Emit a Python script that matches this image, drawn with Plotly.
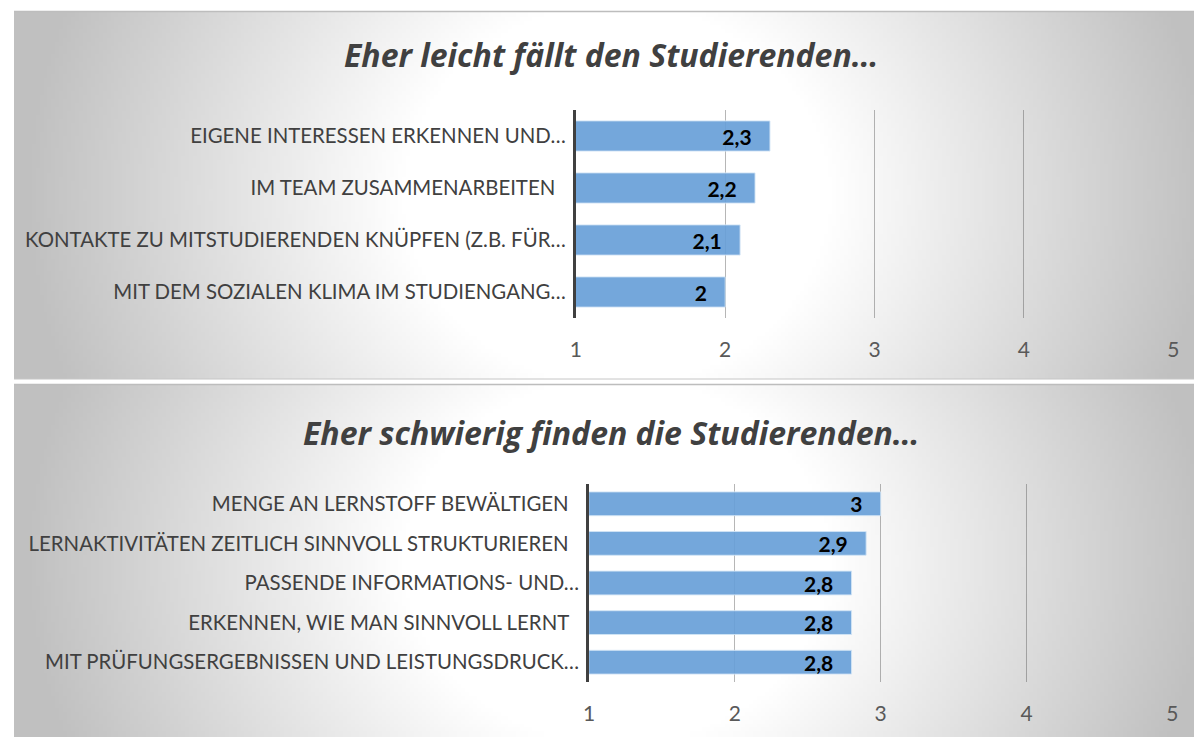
import base64, struct, zlib
import plotly.graph_objects as go

# page is 1202x737; browser body margin of 8px offsets the figure
OFF = 8
FW, FH = 1202 - OFF, 737 - OFF

# ---------------- data ----------------
top_title = "Eher leicht fällt den Studierenden…"
top_categories = [
    "EIGENE INTERESSEN ERKENNEN UND…",
    "IM TEAM ZUSAMMENARBEITEN\u00a0\u00a0",
    "KONTAKTE ZU MITSTUDIERENDEN KNÜPFEN (Z.B. FÜR…",
    "MIT DEM SOZIALEN KLIMA IM STUDIENGANG…",
]
top_values = [2.3, 2.2, 2.1, 2.0]

bottom_title = "Eher schwierig finden die Studierenden…"
bottom_categories = [
    "MENGE AN LERNSTOFF BEWÄLTIGEN\u00a0\u00a0",
    "LERNAKTIVITÄTEN ZEITLICH SINNVOLL STRUKTURIEREN\u00a0\u00a0",
    "PASSENDE INFORMATIONS- UND…",
    "ERKENNEN, WIE MAN SINNVOLL LERNT\u00a0\u00a0",
    "MIT PRÜFUNGSERGEBNISSEN UND LEISTUNGSDRUCK…",
]
bottom_values = [3.0, 2.9, 2.8, 2.8, 2.8]

x_ticks = [1, 2, 3, 4, 5]

# ---------------- helpers ----------------
def px_x(p):
    return (p - OFF) / FW

def px_y(p):
    return 1 - (p - OFF) / FH

def fmt(v):
    s = ("%g" % v).replace(".", ",")
    return s + "\u00a0\u00a0\u00a0"

def gradient_png(w, h):
    rows = []
    for j in range(h):
        v = (j + 0.5) / h
        row = []
        for i in range(w):
            u = (i + 0.5) / w
            du = (u - 0.51) / 0.5
            dv = (v - 0.5) / 0.5
            d = (du * du + 0.12 * dv * dv) ** 0.5
            t = max(0.0, min(1.0, (d - 0.36) / 0.64))
            c = int(round(255 - 63 * t))
            row.append(c)
        rows.append(row)
    raw = b"".join(b"\x00" + bytes(r) for r in rows)

    def chunk(tag, data):
        return (struct.pack(">I", len(data)) + tag + data +
                struct.pack(">I", zlib.crc32(tag + data) & 0xffffffff))

    png = (b"\x89PNG\r\n\x1a\n" +
           chunk(b"IHDR", struct.pack(">IIBBBBB", w, h, 8, 0, 0, 0, 0)) +
           chunk(b"IDAT", zlib.compress(raw, 9)) +
           chunk(b"IEND", b""))
    return "data:image/png;base64," + base64.b64encode(png).decode()

bg = gradient_png(300, 90)

BAR_COLOR = "rgba(104,160,216,0.92)"
FONT = "Lato, 'Open Sans', sans-serif"
TFONT = "'Open Sans', Lato, sans-serif"

fig = go.Figure()

fig.add_trace(go.Bar(
    x=top_values, y=top_categories, orientation="h",
    base=0, xaxis="x", yaxis="y",
    marker=dict(color=BAR_COLOR, line=dict(color="rgba(210,228,245,0.9)", width=1)),
    width=0.58,
    text=[fmt(v) for v in top_values], textposition="inside",
    insidetextanchor="end", constraintext="none",
    textfont=dict(family=FONT, size=21, color="black", weight="bold"),
    hoverinfo="skip", showlegend=False,
))
fig.add_trace(go.Bar(
    x=bottom_values, y=bottom_categories, orientation="h",
    base=0, xaxis="x2", yaxis="y2",
    marker=dict(color=BAR_COLOR, line=dict(color="rgba(210,228,245,0.9)", width=1)),
    width=0.6,
    text=[fmt(v) for v in bottom_values], textposition="inside",
    insidetextanchor="end", constraintext="none",
    textfont=dict(family=FONT, size=21, color="black", weight="bold"),
    hoverinfo="skip", showlegend=False,
))

xcommon = dict(
    range=[1, 5], tickvals=x_ticks, ticktext=[str(t) for t in x_ticks],
    showgrid=True, gridcolor="rgba(80,80,80,0.42)", gridwidth=1,
    zeroline=False, showline=False, ticks="",
    tickfont=dict(family=FONT, size=21, color="#595959"),
    ticklabelstandoff=17, fixedrange=True,
)
ycommon = dict(
    autorange="reversed", showgrid=False, zeroline=False,
    showline=True, linecolor="#404040", linewidth=3, ticks="",
    tickfont=dict(family=FONT, size=20.4, color="#404040"),
    ticklabelstandoff=3, fixedrange=True,
)

fig.update_layout(
    width=FW, height=FH,
    margin=dict(l=0, r=0, t=0, b=0),
    paper_bgcolor="white", plot_bgcolor="rgba(0,0,0,0)",
    xaxis=dict(domain=[px_x(575.5), px_x(1179)], anchor="y", **xcommon),
    yaxis=dict(domain=[px_y(318), px_y(110)], anchor="x", **ycommon),
    xaxis2=dict(domain=[px_x(589), px_x(1178)], anchor="y2", **xcommon),
    yaxis2=dict(domain=[px_y(682), px_y(484)], anchor="x2", **ycommon),
    images=[
        dict(source=bg, xref="paper", yref="paper", x=px_x(8), y=px_y(11),
             sizex=(1202 - 8) / FW, sizey=(379 - 11) / FH, sizing="stretch",
             xanchor="left", yanchor="top", layer="below"),
        dict(source=bg, xref="paper", yref="paper", x=px_x(8), y=px_y(384),
             sizex=(1202 - 8) / FW, sizey=(737 - 384) / FH, sizing="stretch",
             xanchor="left", yanchor="top", layer="below"),
    ],
    shapes=[
        dict(type="line", xref="paper", yref="paper", x0=px_x(8), x1=px_x(1202),
             y0=px_y(11.5), y1=px_y(11.5), line=dict(color="#bdbdbd", width=1.5),
             layer="below"),
        dict(type="line", xref="paper", yref="paper", x0=px_x(8), x1=px_x(1202),
             y0=px_y(384.5), y1=px_y(384.5), line=dict(color="#bdbdbd", width=1.5),
             layer="below"),
        dict(type="line", xref="paper", yref="paper", x0=px_x(8), x1=px_x(1202),
             y0=px_y(379), y1=px_y(379), line=dict(color="#c6c6c6", width=1),
             layer="below"),
    ],
    annotations=[
        dict(text=top_title, xref="paper", yref="paper", x=px_x(611), y=px_y(55),
             xanchor="center", yanchor="middle", showarrow=False,
             font=dict(family=TFONT, size=32, color="#404040", weight="bold",
                       style="italic")),
        dict(text=bottom_title, xref="paper", yref="paper", x=px_x(611), y=px_y(432),
             xanchor="center", yanchor="middle", showarrow=False,
             font=dict(family=TFONT, size=32, color="#404040", weight="bold",
                       style="italic")),
    ],
)

fig.write_html("out.html")
